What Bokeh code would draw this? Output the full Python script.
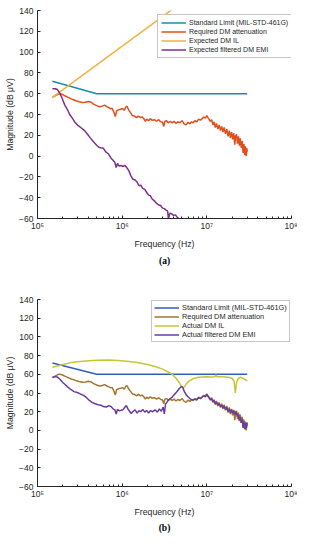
from bokeh.plotting import figure
from bokeh.models import Range1d, FixedTicker, Legend, LegendItem, Title
from bokeh.layouts import column
from bokeh.embed import file_html
from bokeh.resources import INLINE

# ---------------- data ----------------
limit_f = [1.5e5, 5.0e5, 3.0e7]
limit_db = [72.0, 60.0, 60.0]

req_f = [1.50e5, 1.65e5, 1.80e5, 1.95e5, 2.10e5, 2.30e5, 2.50e5, 2.70e5, 2.90e5, 3.10e5,
         3.40e5, 3.70e5, 4.00e5, 4.30e5, 4.60e5, 5.00e5, 5.40e5, 5.80e5, 6.20e5, 6.60e5,
         7.00e5, 7.30e5, 7.60e5, 8.00e5, 8.30e5, 8.60e5, 9.00e5, 9.60e5, 1.01e6, 1.06e6,
         1.10e6, 1.14e6, 1.19e6, 1.25e6, 1.32e6, 1.40e6, 1.48e6, 1.56e6, 1.65e6, 1.72e6,
         1.80e6, 1.88e6, 1.95e6, 2.05e6, 2.15e6, 2.25e6, 2.40e6, 2.55e6, 2.70e6, 2.85e6,
         3.00e6, 3.10e6, 3.20e6, 3.35e6, 3.50e6, 3.70e6, 3.90e6, 4.10e6, 4.30e6, 4.55e6,
         4.80e6, 5.10e6, 5.40e6, 5.70e6, 6.00e6, 6.30e6, 6.60e6, 6.90e6, 7.20e6, 7.60e6,
         8.00e6, 8.40e6, 8.80e6, 9.20e6, 9.60e6, 1.00e7, 1.03e7, 1.06e7, 1.10e7, 1.14e7,
         1.18e7, 1.22e7, 1.26e7, 1.30e7, 1.35e7, 1.40e7, 1.45e7, 1.50e7, 1.55e7, 1.60e7,
         1.66e7, 1.72e7, 1.78e7, 1.84e7, 1.90e7, 1.96e7, 2.02e7, 2.08e7, 2.14e7, 2.19e7,
         2.24e7, 2.30e7, 2.36e7, 2.42e7, 2.48e7, 2.55e7, 2.62e7, 2.68e7, 2.74e7, 2.80e7,
         2.86e7, 2.92e7, 2.97e7, 3.00e7]
req_db = [56.5, 58.5, 60.2, 59.5, 58.0, 56.5, 55.0, 54.0, 53.0, 52.3,
          51.5, 51.8, 52.5, 51.8, 50.0, 48.5, 47.5, 48.0, 49.0, 47.5,
          46.5, 45.5, 46.0, 42.0, 38.0, 43.5, 44.5, 45.0, 45.8, 44.0,
          47.0, 48.0, 44.5, 42.0, 39.0, 38.5, 37.0, 38.5, 37.0, 37.8,
          36.0, 33.5, 35.5, 34.0, 36.0, 34.5, 35.0, 33.5, 35.0, 33.0,
          32.5, 28.5, 33.5, 34.0, 32.0, 33.5, 32.0, 33.5, 31.5, 33.0,
          32.0, 34.0, 31.0, 30.0, 32.5, 31.0, 33.0, 32.0, 34.0, 33.0,
          35.5, 34.5, 36.0, 37.5, 36.5, 39.0, 37.0, 35.5, 33.5, 35.0,
          30.0, 33.0, 27.5, 31.5, 26.0, 30.0, 24.5, 28.5, 23.0, 27.5,
          21.5, 26.0, 19.0, 24.5, 17.5, 23.0, 16.0, 22.0, 11.0, 19.5,
          21.0, 12.0, 19.0, 10.0, 17.0, 8.0, 14.5, 3.0, 11.5, 1.0,
          9.5, 0.0, 7.5, 4.0]

exp_il_f = [1.5e5, 3.0e7]
exp_il_db = [56.4, 194.0]

exp_emi_f = [1.50e5, 1.62e5, 1.72e5, 1.80e5, 1.90e5, 2.00e5, 2.10e5, 2.25e5, 2.40e5, 2.60e5,
             2.80e5, 3.00e5, 3.30e5, 3.60e5, 3.90e5, 4.20e5, 4.60e5, 5.00e5, 5.30e5, 5.60e5,
             6.00e5, 6.40e5, 6.90e5, 7.40e5, 7.80e5, 8.20e5, 8.50e5, 8.80e5, 9.20e5, 9.70e5,
             1.02e6, 1.08e6, 1.13e6, 1.20e6, 1.27e6, 1.33e6, 1.42e6, 1.50e6, 1.58e6, 1.66e6,
             1.75e6, 1.85e6, 1.95e6, 2.05e6, 2.15e6, 2.25e6, 2.40e6, 2.55e6, 2.70e6, 2.85e6,
             3.00e6, 3.15e6, 3.30e6, 3.45e6, 3.52e6, 3.65e6, 3.85e6, 4.05e6, 4.25e6, 4.45e6,
             4.70e6, 5.00e6]
exp_emi_db = [64.8, 64.8, 64.0, 61.5, 58.0, 53.5, 49.0, 45.0, 40.0, 36.0,
              32.0, 29.5, 27.0, 24.5, 21.0, 17.5, 13.5, 10.5, 8.5, 8.0,
              7.5, 4.0, 2.0, -2.0, -4.0, -6.0, -11.0, -7.0, -9.5, -9.0,
              -10.0, -9.0, -11.0, -14.0, -19.0, -22.0, -23.0, -25.0, -28.5, -28.0,
              -31.0, -32.0, -35.0, -37.5, -38.0, -41.0, -43.0, -45.5, -47.0, -47.5,
              -50.0, -50.5, -52.0, -53.0, -61.0, -55.0, -55.5, -57.0, -56.5, -58.5,
              -60.5, -62.0]

act_il_f = [1.50e5, 2.00e5, 2.50e5, 3.00e5, 4.00e5, 5.00e5, 7.00e5, 9.00e5, 1.20e6, 1.50e6,
            2.00e6, 2.50e6, 3.00e6, 3.50e6, 4.00e6, 4.40e6, 4.80e6, 5.05e6, 5.25e6, 5.50e6,
            5.80e6, 6.20e6, 7.00e6, 8.00e6, 1.00e7, 1.15e7, 1.25e7, 1.28e7, 1.31e7, 1.50e7,
            1.80e7, 2.00e7, 2.10e7, 2.17e7, 2.24e7, 2.35e7, 2.50e7, 2.70e7, 3.00e7]
act_il_db = [67.5, 70.5, 72.5, 73.5, 74.5, 75.0, 75.3, 74.8, 73.8, 72.5,
             70.5, 68.0, 65.5, 62.5, 59.0, 55.0, 50.0, 46.5, 45.5, 47.0,
             50.5, 53.0, 55.5, 56.8, 57.3, 57.0, 57.5, 59.5, 57.5, 57.5,
             56.8, 55.5, 52.5, 40.0, 51.0, 55.5, 57.0, 55.5, 53.0]

act_emi_f = [1.50e5, 1.62e5, 1.72e5, 1.85e5, 2.00e5, 2.15e5, 2.30e5, 2.50e5, 2.70e5, 2.95e5,
             3.20e5, 3.50e5, 3.80e5, 4.10e5, 4.40e5, 4.80e5, 5.20e5, 5.60e5, 6.00e5, 6.50e5,
             7.00e5, 7.40e5, 7.80e5, 8.20e5, 8.50e5, 8.80e5, 9.20e5, 9.70e5, 1.02e6, 1.07e6,
             1.12e6, 1.17e6, 1.22e6, 1.28e6, 1.35e6, 1.42e6, 1.50e6, 1.58e6, 1.66e6, 1.75e6,
             1.85e6, 1.95e6, 2.05e6, 2.15e6, 2.30e6, 2.45e6, 2.60e6, 2.75e6, 2.90e6, 3.05e6,
             3.15e6, 3.25e6, 3.40e6, 3.60e6, 3.85e6, 4.10e6, 4.40e6, 4.70e6, 5.00e6, 5.20e6,
             5.40e6, 5.70e6, 6.00e6, 6.40e6, 6.80e6, 7.20e6, 7.60e6, 8.00e6, 8.40e6, 8.80e6,
             9.20e6, 9.60e6, 1.00e7, 1.03e7, 1.06e7, 1.10e7, 1.14e7, 1.18e7, 1.22e7, 1.26e7,
             1.30e7, 1.35e7, 1.40e7, 1.45e7, 1.50e7, 1.55e7, 1.60e7, 1.66e7, 1.72e7, 1.78e7,
             1.84e7, 1.90e7, 1.96e7, 2.02e7, 2.08e7, 2.14e7, 2.19e7, 2.24e7, 2.30e7, 2.36e7,
             2.42e7, 2.48e7, 2.55e7, 2.62e7, 2.68e7, 2.74e7, 2.80e7, 2.86e7, 2.92e7, 2.97e7,
             3.00e7]
act_emi_db = [56.5, 57.5, 57.0, 54.5, 51.0, 48.5, 46.0, 43.5, 41.5, 40.5,
              39.0, 37.5, 35.0, 32.0, 30.0, 28.5, 27.5, 27.0, 25.5, 25.0,
              26.5, 25.5, 23.0, 22.0, 17.5, 22.5, 21.0, 21.5, 22.0, 24.5,
              26.5, 23.0, 20.5, 18.0, 20.5, 22.0, 18.5, 21.0, 20.0, 22.5,
              19.5, 21.5, 18.5, 21.0, 20.0, 22.0, 19.5, 23.0, 20.5, 25.0,
              17.5, 28.0, 30.5, 33.5, 35.0, 38.0, 41.0, 44.5, 47.0, 46.0,
              42.0, 38.0, 36.0, 33.5, 32.5, 33.5, 32.5, 35.0, 34.0, 35.5,
              37.0, 36.0, 38.5, 36.5, 35.0, 32.5, 34.0, 30.5, 32.0, 28.5,
              30.0, 27.0, 28.5, 25.5, 27.0, 24.0, 26.0, 22.5, 24.5, 20.5,
              23.0, 19.0, 22.0, 18.5, 21.0, 17.0, 20.0, 18.5, 15.0, 17.0,
              11.0, 14.5, 8.0, 12.0, 3.0, 9.5, 1.5, 8.0, 2.0, 8.5,
              6.0]

x_tick_vals = [100000, 1000000, 10000000, 100000000]
x_tick_text = ["10\u2075", "10\u2076", "10\u2077", "10\u2078"]
y_tick_vals = [-60, -40, -20, 0, 20, 40, 60, 80, 100, 120, 140]

labels_a = ["Standard Limit (MIL-STD-461G)", "Required DM attenuation",
            "Expected DM IL", "Expected filtered DM EMI"]
labels_b = ["Standard Limit (MIL-STD-461G)", "Required DM attenuation",
            "Actual DM IL", "Actual filtered DM EMI"]
colors_a = ["#1a8ca8", "#e0501c", "#f0b23c", "#7e2f8e"]
colors_b = ["#2f5ec2", "#a37630", "#c4c834", "#6a3c9c"]

FONT = "Liberation Sans"
TXT = "#262626"


def make_fig(height, btop, bbottom, series, labels, colors, leg_font, leg_pad,
             leg_loc, caption, cap_standoff):
    p = figure(width=297, height=height, x_axis_type="log",
               x_range=Range1d(1e5, 1e8), y_range=Range1d(-60, 140),
               output_backend="svg", toolbar_location=None,
               min_border_left=37, min_border_right=6,
               min_border_top=btop, min_border_bottom=bbottom)
    p.outline_line_color = None
    p.grid.visible = False

    minors = [k * d for d in (1e5, 1e6, 1e7) for k in range(2, 10)]
    p.xaxis.ticker = FixedTicker(ticks=x_tick_vals, minor_ticks=minors)
    p.xaxis.major_label_overrides = dict(zip(x_tick_vals, x_tick_text))
    p.yaxis.ticker = FixedTicker(ticks=y_tick_vals)
    for ax in (p.xaxis[0], p.yaxis[0]):
        ax.major_tick_in = 3
        ax.major_tick_out = 0
        ax.minor_tick_in = 2
        ax.minor_tick_out = 0
        ax.axis_line_color = TXT
        ax.major_tick_line_color = TXT
        ax.minor_tick_line_color = TXT
        ax.major_label_text_font = FONT
        ax.major_label_text_font_size = "8.5px"
        ax.major_label_text_color = TXT
        ax.axis_label_text_font = FONT
        ax.axis_label_text_font_size = "8.7px"
        ax.axis_label_text_font_style = "normal"
        ax.axis_label_text_color = TXT
    p.yaxis.minor_tick_line_color = None
    p.xaxis.axis_label = "Frequency (Hz)"
    p.yaxis.axis_label = "Magnitude (dB \u03bcV)"
    p.xaxis.major_label_standoff = 2
    p.xaxis.axis_label_standoff = 5
    p.yaxis.major_label_standoff = 4
    p.yaxis.axis_label_standoff = 1

    items = []
    for (fx, fy), lab, col in zip(series, labels, colors):
        r = p.line(fx, fy, line_color=col, line_width=1.5)
        items.append(LegendItem(label=lab, renderers=[r]))
    leg = Legend(items=items, location=leg_loc)
    leg.label_text_font = FONT
    leg.label_text_font_size = leg_font
    leg.label_text_color = TXT
    leg.glyph_width = 25
    leg.glyph_height = 9
    leg.label_height = 9
    leg.spacing = 0
    leg.padding = leg_pad
    leg.margin = 0
    leg.label_standoff = 3
    leg.border_line_color = "#8c8c8c"
    leg.border_line_width = 1
    p.add_layout(leg)

    t = Title(text=caption, align="center", text_font="Liberation Serif",
              text_font_size="9.5px", text_font_style="bold", text_color="#000000",
              standoff=cap_standoff)
    p.add_layout(t, "below")
    return p


pa = make_fig(268, 10, 49,
              [(limit_f, limit_db), (req_f, req_db), (exp_il_f, exp_il_db), (exp_emi_f, exp_emi_db)],
              labels_a, colors_a, "7px", 3, (120, 160), "(a)", 5)
pb = make_fig(266, 31, 47,
              [(limit_f, limit_db), (req_f, req_db), (act_il_f, act_il_db), (act_emi_f, act_emi_db)],
              labels_b, colors_b, "7.4px", 2, (114, 144), "(b)", 3)

layout = column(pa, pb, spacing=0)
open("out.html", "w").write(file_html(layout, INLINE))
